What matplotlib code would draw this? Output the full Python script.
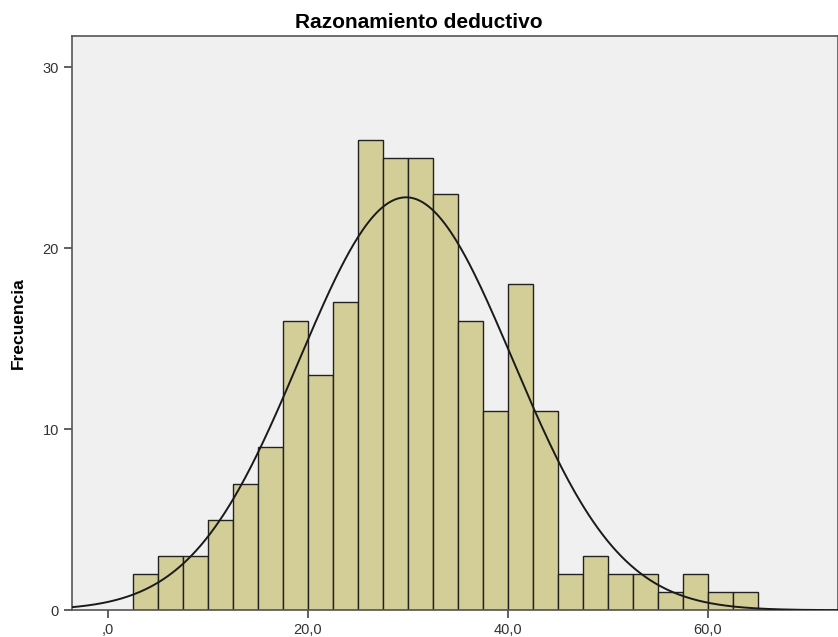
import numpy as np
import matplotlib
matplotlib.use('Agg')
import matplotlib.pyplot as plt

# Histograma de "Razonamiento deductivo" (estilo SPSS)
bin_edges = [2.5, 5.0, 7.5, 10.0, 12.5, 15.0, 17.5, 20.0, 22.5, 25.0, 27.5, 30.0, 32.5,
             35.0, 37.5, 40.0, 42.5, 45.0, 47.5, 50.0, 52.5, 55.0, 57.5, 60.0, 62.5, 65.0]
frecuencias = [2, 3, 3, 5, 7, 9, 16, 13, 17, 26, 25, 25, 23, 16, 11, 18, 11, 2, 3, 2, 2, 1, 2, 1, 1]

media = 29.8
desv = 10.67
n_total = sum(frecuencias)
ancho = 2.5

xticks = [0, 20, 40, 60]
xtick_labels = [',0', '20,0', '40,0', '60,0']
yticks = [0, 10, 20, 30]
ytick_labels = ['0', '10', '20', '30']

plt.rcParams['font.family'] = ['Liberation Sans', 'DejaVu Sans']

fig = plt.figure(figsize=(8.38, 6.37), dpi=100)
ax = fig.add_axes([0.086, 0.042, 0.914, 0.901])
ax.set_facecolor('#F0F0F0')

lefts = bin_edges[:-1]
widths = np.diff(bin_edges)
ax.bar(lefts, frecuencias, width=widths, align='edge', color='#D3CE97',
       edgecolor='#222222', linewidth=1.0, zorder=2)

xs = np.linspace(-4, 74, 500)
curva = n_total * ancho / (desv * np.sqrt(2 * np.pi)) * np.exp(-0.5 * ((xs - media) / desv) ** 2)
ax.plot(xs, curva, color='#1a1a1a', linewidth=1.4, zorder=3)

ax.set_xlim(-3.6, 73)
ax.set_ylim(0, 31.7)
ax.set_xticks(xticks)
ax.set_xticklabels(xtick_labels)
ax.set_yticks(yticks)
ax.set_yticklabels(ytick_labels)
ax.tick_params(direction='out', length=6, width=1.2, color='#444444',
               labelsize=10.5, labelcolor='#333333')

for s in ax.spines.values():
    s.set_color('#555555')
    s.set_linewidth(1.2)

# titulo centrado en la figura, como en SPSS
fig.text(0.5, 0.965, 'Razonamiento deductivo', fontsize=15, fontweight='bold',
         ha='center', va='center')
ax.set_ylabel('Frecuencia', fontsize=12.5, fontweight='bold', labelpad=12)

plt.savefig('out.png', dpi=100)
plt.close()
